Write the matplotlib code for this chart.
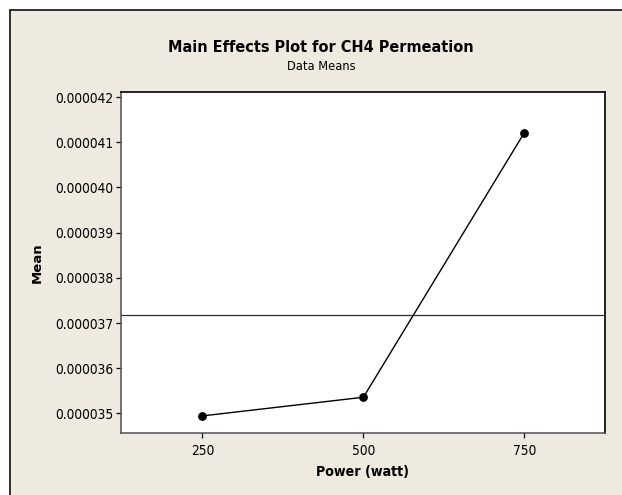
import numpy as np
import matplotlib
matplotlib.use("Agg")
import matplotlib.pyplot as plt
from matplotlib.patches import Rectangle

plt.rcParams['font.family'] = ['DejaVu Sans']
plt.rcParams['font.stretch'] = 'condensed'

# data
power = [250, 500, 750]
mean_perm = [0.000034945, 0.000035358, 0.000041212]
y_ticks = [0.000035, 0.000036, 0.000037, 0.000038, 0.000039, 0.000040, 0.000041, 0.000042]
y_tick_labels = ["0.000035", "0.000036", "0.000037", "0.000038", "0.000039", "0.000040", "0.000041", "0.000042"]

grand_mean = np.mean(mean_perm)

W, H = 622, 495
fig = plt.figure(figsize=(W / 100, H / 100), dpi=100)
fig.patch.set_facecolor('white')

# beige graph region with a frame, cut off at right and bottom like the screenshot
frame = Rectangle((10 / W, -0.1), 1.2, 1 - 10 / H + 0.1, transform=fig.transFigure,
                  facecolor='#eeeae0', edgecolor='#202020', linewidth=1.3, zorder=-5)
fig.patches.append(frame)

left, right, top, bottom = 120.7, 604.8, 92.3, 433.3
ax = fig.add_axes([left / W, 1 - bottom / H, (right - left) / W, (bottom - top) / H])
ax.set_zorder(2)
ax.set_facecolor('white')

ax.plot(power, mean_perm, color='black', linewidth=1.0, marker='o',
        markersize=5.3, markerfacecolor='black', markeredgecolor='black')
ax.axhline(grand_mean, color='#303030', linewidth=0.9)

ax.set_xlim(123, 875)
ax.set_ylim(0.00003456, 0.000042106)
ax.set_xticks(power)
ax.set_xticklabels([str(p) for p in power])
ax.set_yticks(y_ticks)
ax.set_yticklabels(y_tick_labels)
ax.tick_params(direction='out', length=3.5, width=0.9, labelsize=9.8, colors='black', pad=2)
ax.tick_params(axis='x', pad=4)

for side in ['left', 'bottom']:
    ax.spines[side].set_color('#505050')
    ax.spines[side].set_linewidth(1.1)
for side in ['top', 'right']:
    ax.spines[side].set_color('black')
    ax.spines[side].set_linewidth(1.2)

ax.set_xlabel('Power (watt)', fontsize=10.2, fontweight='bold', labelpad=5)
fig.text(37 / W, 1 - 263 / H, 'Mean', rotation=90, ha='center', va='center',
         fontsize=9.5, fontweight='bold', fontstretch='normal')

fig.text(321 / W, 1 - 47 / H, 'Main Effects Plot for CH4 Permeation', ha='center', va='center',
         fontsize=11.6, fontweight='bold')
fig.text(321 / W, 1 - 67 / H, 'Data Means', ha='center', va='center', fontsize=9.2)

fig.savefig('out.png', dpi=100)
